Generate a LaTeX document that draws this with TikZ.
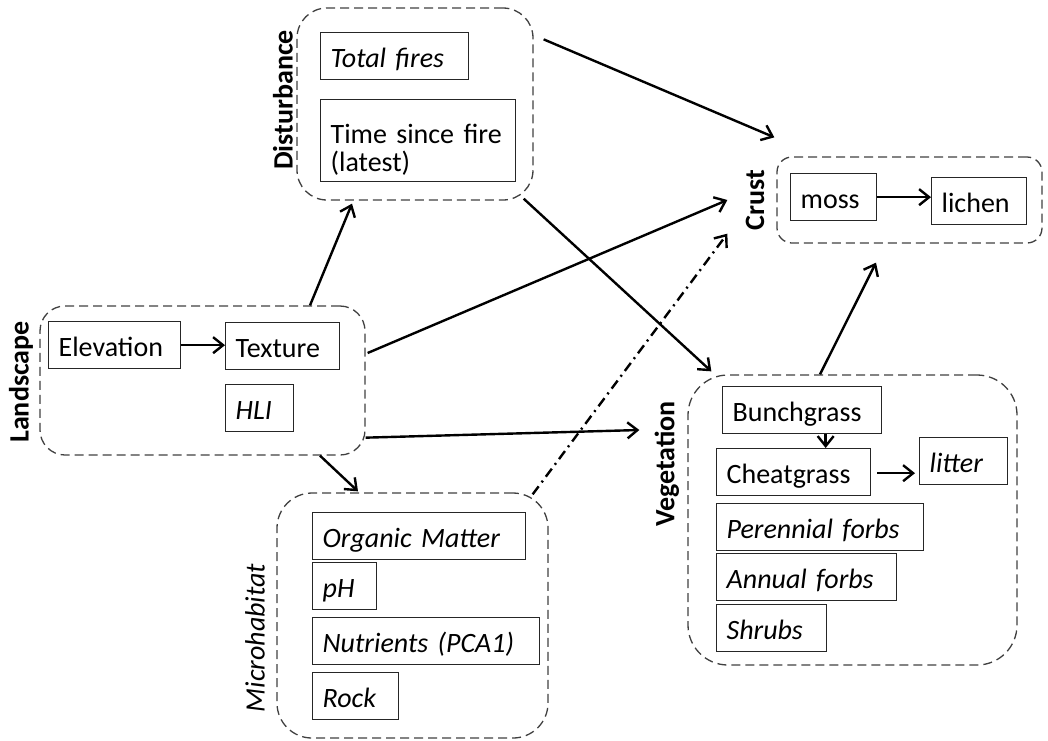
\documentclass[tikz,border=0pt]{standalone}
\usepackage{fontspec}
\setmainfont{Carlito}
\usetikzlibrary{arrows.meta}

\tikzset{
  var/.style={draw=black!85, line width=1.3pt, anchor=north west, inner xsep=10pt, inner ysep=0pt,
    minimum height=47pt, text height=26pt, text depth=3pt, align=left},
  grp/.style={draw=black!75, line width=1.3pt, dash pattern=on 9pt off 5pt},
  lbl/.style={rotate=90, font=\fontsize{28}{34}\selectfont\bfseries},
  arr/.style={-{Straight Barb[length=10pt,width=16pt]}, line width=2.4pt},
}

\begin{document}
\begin{tikzpicture}[x=1pt, y=-1pt, font=\fontsize{28}{34}\selectfont]
\useasboundingbox (0,0) rectangle (1048,740);

%% Landscape
\node[grp, rounded corners=25pt, minimum width=325pt, minimum height=149pt] (land) at (202.5,380.5) {};
\node[lbl] (landlbl) at (21,382) {Landscape};
\node[var, text width=112pt] (elev) at (48,321) {Elevation};
\node[var, text width=94pt] (texture) at (225,322) {Texture};
\node[var, text width=48pt] (hli) at (225,384) {\itshape HLI};
\draw[arr] (elev.east) -- (elev.east -| texture.west);

%% Disturbance
\node[grp, rounded corners=30pt, minimum width=236pt, minimum height=192pt] (dist) at (415,104) {};
\node[lbl] (distlbl) at (283,100) {Disturbance};
\node[var, text width=128pt] (tfires) at (320,32) {\itshape Total fires};
\node[var, text width=175pt, minimum height=82pt, text height=30pt, text depth=25pt,
  font=\fontsize{28}{28}\selectfont] (tsf) at (320,99) {Time since fire\\(latest)};

%% Crust
\node[grp, rounded corners=15pt, minimum width=265pt, minimum height=86pt] (crust) at (909.5,200) {};
\node[lbl] (crustlbl) at (755,200) {Crust};
\node[var, text width=66pt] (moss) at (790,173) {moss};
\node[var, text width=75pt] (lichen) at (931,177) {lichen};
\draw[arr] (moss.east) -- (moss.east -| lichen.west);

%% Vegetation
\node[grp, rounded corners=40pt, minimum width=329pt, minimum height=290pt] (veg) at (852.5,520) {};
\node[lbl] (veglbl) at (667,464) {Vegetation};
\node[var, text width=139pt] (bunch) at (722,386) {Bunchgrass};
\node[var, text width=134pt] (cheat) at (716,448) {Cheatgrass};
\node[var, text width=68pt] (litter) at (919,437) {\itshape litter};
\node[var, text width=187pt] (pforbs) at (716,503) {\itshape Perennial forbs};
\node[var, text width=160pt] (aforbs) at (716,553) {\itshape Annual forbs};
\node[var, text width=90pt] (shrubs) at (716,604) {\itshape Shrubs};
\draw[arr] ([xshift=23.5pt]bunch.south) -- ([xshift=23.5pt]bunch.south |- cheat.north);
\draw[arr, shorten >=4pt] ([xshift=6pt,yshift=-1pt]cheat.east) -- ([yshift=-1pt]cheat.east -| litter.west);

%% Microhabitat
\node[grp, rounded corners=35pt, minimum width=271pt, minimum height=245pt] (micro) at (412.5,615.5) {};
\node[lbl, font=\fontsize{28}{34}\selectfont\itshape] (microlbl) at (255,638) {Microhabitat};
\node[var, text width=193pt] (om) at (312,512) {\itshape Organic Matter};
\node[var, text width=44pt] (ph) at (312,562) {\itshape pH};
\node[var, text width=207pt] (nutr) at (312,617) {\itshape Nutrients (PCA1)};
\node[var, text width=66pt] (rock) at (312,672) {\itshape Rock};

%% fleches entre groupes
\draw[arr] ([xshift=107.5pt]land.north) -- ([xshift=-63pt,yshift=-3pt]dist.south);
\draw[arr] ([xshift=10pt,yshift=-32pt]dist.north east) -- ([xshift=-2pt,yshift=19pt]crust.north west);
\draw[arr] ([xshift=-10pt,yshift=2pt]dist.south east) -- ([xshift=24pt,yshift=3pt]veg.north west);
\draw[arr] ([xshift=2pt,yshift=27.5pt]land.east) -- ([xshift=-49pt]crust.west);
\draw[arr] ([yshift=18pt]land.south east) -- ([xshift=-48pt,yshift=90pt]veg.west);
\draw[arr] ([xshift=117.5pt]land.south) -- ([xshift=-54.5pt,yshift=1pt]micro.north);
\draw[arr, dash pattern=on 10pt off 5pt on 2pt off 5pt] ([xshift=-16pt,yshift=-2pt]micro.north east) -- ([xshift=-49pt,yshift=10pt]crust.south west);
\draw[arr] ([xshift=-32.5pt]veg.north) -- ([xshift=-33.5pt,yshift=-19pt]crust.south);
\end{tikzpicture}
\end{document}
